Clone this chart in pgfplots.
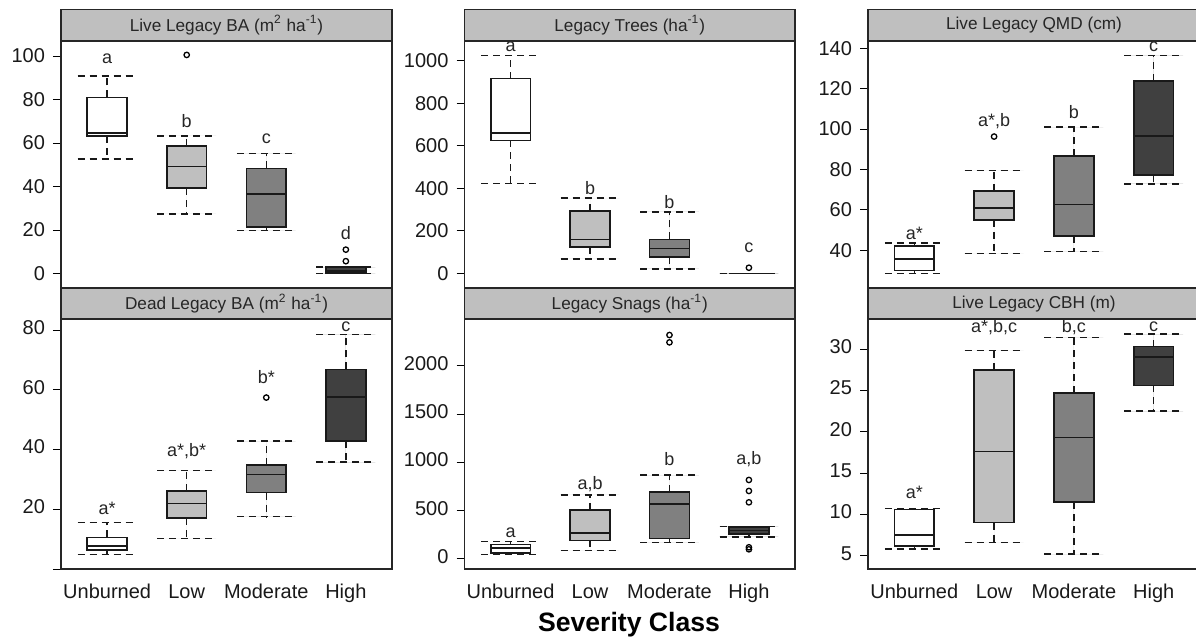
\documentclass[border=0pt]{standalone}
\usepackage{fontspec}
\setmainfont{Liberation Sans}
\usepackage{pgfplots}
\pgfplotsset{compat=1.18}
\usepgfplotslibrary{statistics}

\tikzset{lbl/.style={inner sep=0pt, font=\fontsize{9}{10}\selectfont, text=black!85}}

\pgfplotsset{
  panel/.style={
    scale only axis, anchor=south west,
    xmin=0.42, xmax=4.58,
    xtick={1,2,3,4}, xticklabels={},
    xtick style={draw=none},
    ytick pos=left, tick align=outside,
    major tick length=4pt,
    ytick style={black, line width=0.5pt},
    axis line style={line width=0.6pt, black!85},
    /pgf/number format/assume math mode=true,
    /pgf/number format/1000 sep={},
    scaled y ticks=false,
    ticklabel style={font=\fontsize{10}{11}\selectfont, black!90},
    yticklabel style={xshift=-0.5pt},
    boxplot/draw direction=y,
    boxplot/box extend=0.5,
    boxplot/whisker extend=0.74,
    boxplot/every whisker/.style={dash pattern=on 3.5pt off 2.5pt, line width=0.75pt},
    boxplot/every median/.style={solid, line width=0.85pt},
    every axis title shift=0pt,
    title style={at={(0.5,1)}, anchor=south, yshift=0pt, draw=black!85, fill=black!25,
      inner sep=0pt, line width=0.6pt, text=black!85,
      font=\fontsize{8.6}{10}\selectfont},
  },
  bottomrow/.style={
    xticklabels={Unburned,Low,Moderate,High},
    typeset ticklabels with strut,
    xticklabel style={yshift=0.5pt},
  },
  bp/.style={draw=black!90, line width=0.8pt, mark=o, mark size=1.35pt,
    mark options={solid, line width=0.65pt, draw=black}},
  U/.style={bp, fill=white},
  L/.style={bp, fill=black!25},
  M/.style={bp, fill=black!50},
  H/.style={bp, fill=black!75},
}

\begin{document}
\begin{tikzpicture}
\useasboundingbox (0,0) rectangle (598pt,319.5pt);

% ---- Live legacy basal area
\begin{axis}[panel, at={(30.5pt,175.75pt)}, width=165.5pt, height=123.25pt,
  ymin=-6.4, ymax=106.9, ytick={0,20,40,60,80,100},
  title={Live Legacy BA (m\textsuperscript{2} ha\textsuperscript{-1})},
  title style={minimum width=165.5pt, minimum height=15.5pt}]
\addplot[U, boxplot prepared={draw position=1, lower whisker=52.6, lower quartile=63.3, median=64.5, upper quartile=81.0, upper whisker=90.8}] coordinates {};
\addplot[L, boxplot prepared={draw position=2, lower whisker=27.4, lower quartile=39.3, median=49.2, upper quartile=58.7, upper whisker=63.3}] table[row sep=\\, y index=0] {v\\ 100.5\\};
\addplot[M, boxplot prepared={draw position=3, lower whisker=19.7, lower quartile=21.3, median=36.7, upper quartile=48.3, upper whisker=55.2}] coordinates {};
\addplot[H, boxplot prepared={draw position=4, lower whisker=0, lower quartile=0.2, median=1.2, upper quartile=2.9, upper whisker=3.0}] table[row sep=\\, y index=0] {v\\ 5.7\\ 11.0\\};
\node[lbl] at (1,98.9) {a};
\node[lbl] at (2,69.9) {b};
\node[lbl] at (3,61.8) {c};
\node[lbl] at (4,18.7) {d};
\end{axis}

% ---- Legacy trees
\begin{axis}[panel, at={(232.25pt,175.75pt)}, width=165.25pt, height=123.25pt,
  ymin=-66, ymax=1094, ytick={0,200,400,600,800,1000},
  title={Legacy Trees (ha\textsuperscript{-1})},
  title style={minimum width=165.25pt, minimum height=15.5pt}]
\addplot[U, boxplot prepared={draw position=1, lower whisker=424, lower quartile=626, median=660, upper quartile=917, upper whisker=1025}] coordinates {};
\addplot[L, boxplot prepared={draw position=2, lower whisker=69, lower quartile=124, median=160, upper quartile=294, upper whisker=354}] coordinates {};
\addplot[M, boxplot prepared={draw position=3, lower whisker=22, lower quartile=77, median=117, upper quartile=160, upper whisker=290}] coordinates {};
\addplot[H, boxplot prepared={draw position=4, lower whisker=0, lower quartile=0, median=0, upper quartile=0, upper whisker=0}] table[row sep=\\, y index=0] {v\\ 27\\};
\node[lbl] at (1,1067) {a};
\node[lbl] at (2,402) {b};
\node[lbl] at (3,338) {b};
\node[lbl] at (4,120) {c};
\end{axis}

% ---- Live legacy QMD
\begin{axis}[panel, at={(434pt,175.75pt)}, width=166pt, height=123.25pt,
  ymin=21.6, ymax=143.6, ytick={40,60,80,100,120,140},
  title={Live Legacy QMD (cm)},
  title style={minimum width=166pt, minimum height=15.5pt}]
\addplot[U, boxplot prepared={draw position=1, lower whisker=28.5, lower quartile=30.1, median=35.7, upper quartile=42.0, upper whisker=43.6}] coordinates {};
\addplot[L, boxplot prepared={draw position=2, lower whisker=38.5, lower quartile=55.0, median=60.8, upper quartile=69.3, upper whisker=79.4}] table[row sep=\\, y index=0] {v\\ 96.3\\};
\addplot[M, boxplot prepared={draw position=3, lower whisker=39.3, lower quartile=47.1, median=62.7, upper quartile=86.6, upper whisker=101}] coordinates {};
\addplot[H, boxplot prepared={draw position=4, lower whisker=72.9, lower quartile=77.2, median=96.5, upper quartile=123.9, upper whisker=136.5}] coordinates {};
\node[lbl] at (1,48.6) {a*};
\node[lbl] at (2,103.8) {a*,b};
\node[lbl] at (3,108.5) {b};
\node[lbl] at (4,140.8) {c};
\end{axis}

% ---- Dead legacy basal area
\begin{axis}[panel, bottomrow, at={(30.5pt,35pt)}, width=165.5pt, height=124.85pt,
  ymin=0, ymax=83.6, ytick={0,20,40,60,80}, yticklabels={,20,40,60,80},
  title={Dead Legacy BA (m\textsuperscript{2} ha\textsuperscript{-1})},
  title style={minimum width=165.5pt, minimum height=15pt}]
\addplot[U, boxplot prepared={draw position=1, lower whisker=4.9, lower quartile=6.3, median=7.8, upper quartile=10.6, upper whisker=15.5}] coordinates {};
\addplot[L, boxplot prepared={draw position=2, lower whisker=10.2, lower quartile=17.0, median=21.9, upper quartile=26.1, upper whisker=32.9}] coordinates {};
\addplot[M, boxplot prepared={draw position=3, lower whisker=17.5, lower quartile=25.6, median=31.6, upper quartile=34.8, upper whisker=42.8}] table[row sep=\\, y index=0] {v\\ 57.4\\};
\addplot[H, boxplot prepared={draw position=4, lower whisker=35.8, lower quartile=42.8, median=57.6, upper quartile=66.8, upper whisker=78.5}] coordinates {};
\node[lbl] at (1,20.3) {a*};
\node[lbl] at (2,39.3) {a*,b*};
\node[lbl] at (3,64.4) {b*};
\node[lbl] at (4,81.1) {c};
\end{axis}

% ---- Legacy snags
\begin{axis}[panel, bottomrow, at={(232.25pt,35pt)}, width=165.25pt, height=124.85pt,
  ymin=-104, ymax=2484, ytick={0,500,1000,1500,2000},
  title={Legacy Snags (ha\textsuperscript{-1})},
  title style={minimum width=165.25pt, minimum height=15pt}]
\addplot[U, boxplot prepared={draw position=1, lower whisker=48, lower quartile=59, median=111, upper quartile=152, upper whisker=183}] coordinates {};
\addplot[L, boxplot prepared={draw position=2, lower whisker=90, lower quartile=193, median=269, upper quartile=508, upper whisker=663}] coordinates {};
\addplot[M, boxplot prepared={draw position=3, lower whisker=169, lower quartile=214, median=573, upper quartile=691, upper whisker=870}] table[row sep=\\, y index=0] {v\\ 2245\\ 2321\\};
\addplot[H, boxplot prepared={draw position=4, lower whisker=228, lower quartile=256, median=294, upper quartile=332, upper whisker=335}] table[row sep=\\, y index=0] {v\\ 100\\ 121\\ 587\\ 705\\ 819\\};
\node[lbl] at (1,276) {a};
\node[lbl] at (2,774) {a,b};
\node[lbl] at (3,1036) {b};
\node[lbl] at (4,1036) {a,b};
\end{axis}

% ---- Live legacy crown base height
\begin{axis}[panel, bottomrow, at={(434pt,35pt)}, width=166pt, height=124.85pt,
  ymin=3.39, ymax=33.6, ytick={5,10,15,20,25,30},
  title={Live Legacy CBH (m)},
  title style={minimum width=166pt, minimum height=15pt}]
\addplot[U, boxplot prepared={draw position=1, lower whisker=5.8, lower quartile=6.2, median=7.5, upper quartile=10.6, upper whisker=10.7}] coordinates {};
\addplot[L, boxplot prepared={draw position=2, lower whisker=6.6, lower quartile=9.0, median=17.6, upper quartile=27.5, upper whisker=29.8}] coordinates {};
\addplot[M, boxplot prepared={draw position=3, lower whisker=5.2, lower quartile=11.5, median=19.3, upper quartile=24.7, upper whisker=31.4}] coordinates {};
\addplot[H, boxplot prepared={draw position=4, lower whisker=22.5, lower quartile=25.6, median=29.0, upper quartile=30.3, upper whisker=31.8}] coordinates {};
\node[lbl] at (1,12.7) {a*};
\node[lbl] at (2,32.7) {a*,b,c};
\node[lbl] at (3,32.7) {b,c};
\node[lbl] at (4,32.7) {c};
\end{axis}

\node[font=\bfseries\fontsize{13.3}{15}\selectfont] at (314.5pt,7pt) {Severity Class};
\end{tikzpicture}
\end{document}
